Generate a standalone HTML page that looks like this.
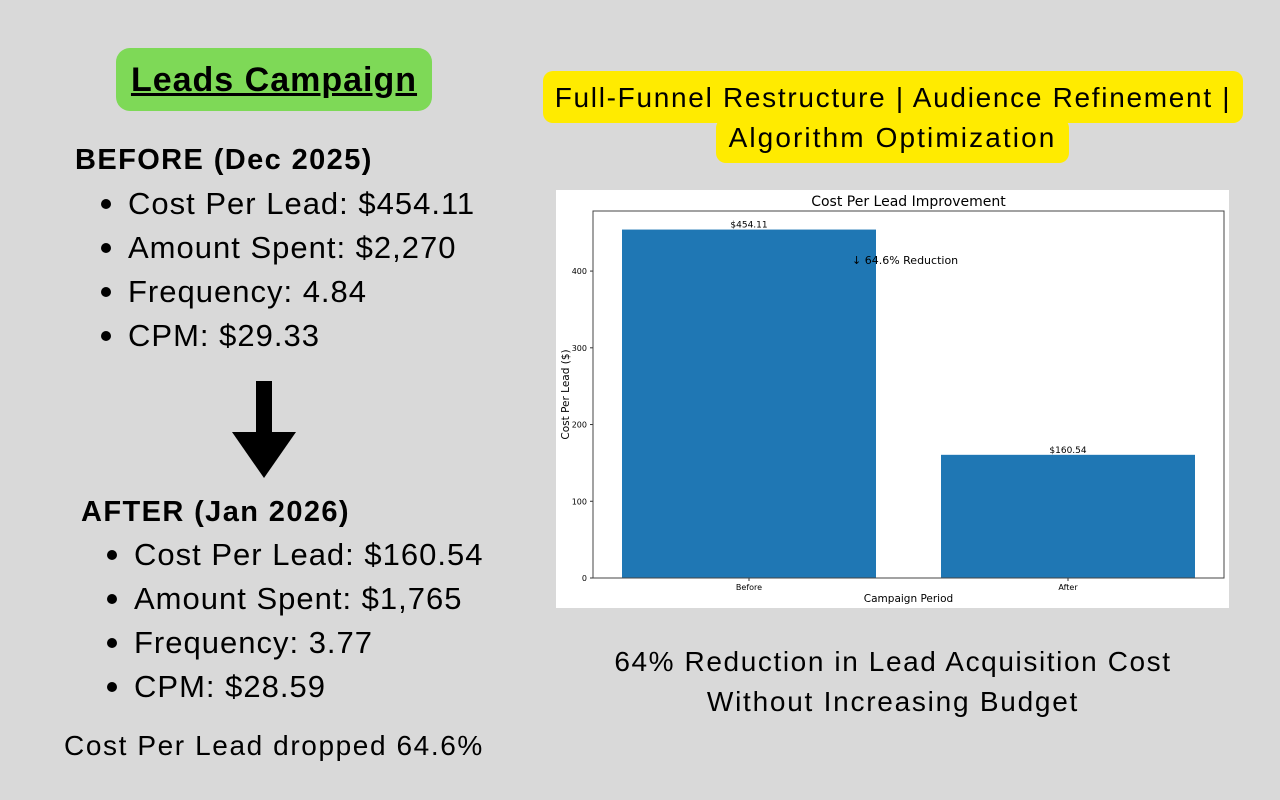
<!DOCTYPE html>
<html><head><meta charset="utf-8"><style>
body{margin:0;width:1280px;height:800px;background:#d9d9d9;position:relative;overflow:hidden;font-family:"Liberation Sans","DejaVu Sans",sans-serif;color:#000}
.t{position:absolute;white-space:nowrap;line-height:1}
.li{font-size:31px;letter-spacing:1px}
.li:before{content:"";position:absolute;left:-27px;top:11px;width:10px;height:10px;border-radius:50%;background:#000}
</style></head><body>
<div style="position:absolute;left:116px;top:48px;width:316px;height:63px;background:#7ed957;border-radius:14px"></div>
<div class="t" style="left:116px;width:316px;text-align:center;top:63px;font-size:34px;font-weight:bold;text-decoration:underline;letter-spacing:1px">Leads Campaign</div>

<div class="t" style="left:75px;top:146px;font-size:29px;font-weight:bold;letter-spacing:1.4px">BEFORE (Dec 2025)</div>
<div class="t li" style="left:128px;top:188px">Cost Per Lead: $454.11</div>
<div class="t li" style="left:128px;top:232px">Amount Spent: $2,270</div>
<div class="t li" style="left:128px;top:276px">Frequency: 4.84</div>
<div class="t li" style="left:128px;top:320px">CPM: $29.33</div>

<svg style="position:absolute;left:230px;top:380px" width="70" height="100"><rect x="26" y="1" width="16" height="56" fill="#000"/><polygon points="2,52 66,52 34,98" fill="#000"/></svg>

<div class="t" style="left:81px;top:498px;font-size:29px;font-weight:bold;letter-spacing:1.4px">AFTER (Jan 2026)</div>
<div class="t li" style="left:134px;top:539px">Cost Per Lead: $160.54</div>
<div class="t li" style="left:134px;top:583px">Amount Spent: $1,765</div>
<div class="t li" style="left:134px;top:627px">Frequency: 3.77</div>
<div class="t li" style="left:134px;top:671px">CPM: $28.59</div>
<div class="t" style="left:64px;top:732px;font-size:28px;letter-spacing:1.6px">Cost Per Lead dropped 64.6%</div>

<div style="position:absolute;left:543px;top:71px;width:700px;height:52px;background:#ffeb00;border-radius:10px"></div>
<div style="position:absolute;left:716px;top:118px;width:353px;height:45px;background:#ffeb00;border-radius:10px"></div>
<div class="t" style="left:543px;width:700px;text-align:center;top:84px;font-size:28px;letter-spacing:1.7px">Full-Funnel Restructure | Audience Refinement |</div>
<div class="t" style="left:716px;width:353px;text-align:center;top:124px;font-size:28px;letter-spacing:2.1px">Algorithm Optimization</div>

<div class="t" style="left:543px;width:700px;text-align:center;top:648px;font-size:28px;letter-spacing:1.6px">64% Reduction in Lead Acquisition Cost</div>
<div class="t" style="left:543px;width:700px;text-align:center;top:688px;font-size:28px;letter-spacing:1.75px">Without Increasing Budget</div>

<svg id="chart" style="position:absolute;left:556px;top:190px" width="673" height="418"></svg>
<script>
const categories=["Before","After"];
const values=[454.11,160.54];
const labels=["$454.11","$160.54"];
const yTicks=[0,100,200,300,400];
const NS="http://www.w3.org/2000/svg";
const svg=document.getElementById("chart");
const L=37,R=668,T=21,B=388,yMax=478.3;
const X0=193,XSTEP=319,bw=254;
function y(v){return B-(v/yMax)*(B-T);}
function xc(i){return X0+XSTEP*i;}
function mk(tag,attrs,txt){const e=document.createElementNS(NS,tag);for(const k in attrs)e.setAttribute(k,attrs[k]);if(txt!==undefined)e.textContent=txt;svg.appendChild(e);return e;}
const bg=mk("rect",{x:0,y:0,width:673,height:418,fill:"#fff"});


const ttl=mk("text",{x:(L+R)/2,y:16,"font-size":14,"text-anchor":"middle","font-family":"DejaVu Sans, sans-serif"},"Cost Per Lead Improvement");


categories.forEach((c,i)=>{
  const cx=xc(i);
  const b=mk("rect",{x:cx-bw/2,y:y(values[i]),width:bw,height:B-y(values[i]),fill:"#1f77b4"});
  
  
  const lt=mk("text",{x:cx,y:y(values[i])-2,"font-size":9,"text-anchor":"middle","font-family":"DejaVu Sans, sans-serif"},labels[i]);
  
  
  const tk=mk("line",{x1:cx,x2:cx,y1:B,y2:B+3,stroke:"#333"});
  
  
  const tl=mk("text",{x:cx,y:B+12,"font-size":8,"text-anchor":"middle","font-family":"DejaVu Sans, sans-serif"},c);
  
  
});
yTicks.forEach(v=>{
  const t=mk("line",{x1:L-3,x2:L,y1:y(v),y2:y(v),stroke:"#333"});
  
  
  const tl=mk("text",{x:L-6,y:y(v)+3,"font-size":8,"text-anchor":"end","font-family":"DejaVu Sans, sans-serif"},v);
  
  
});
const ax=mk("rect",{x:L,y:T,width:R-L,height:B-T,fill:"none",stroke:"#444","stroke-width":1});


const an=mk("text",{x:296,y:74,"font-size":11,"font-family":"DejaVu Sans, sans-serif"},"↓ 64.6% Reduction");


const xl=mk("text",{x:(L+R)/2,y:412,"font-size":10.5,"text-anchor":"middle","font-family":"DejaVu Sans, sans-serif"},"Campaign Period");


const yl=mk("text",{x:0,y:0,"font-size":10.5,"text-anchor":"middle","font-family":"DejaVu Sans, sans-serif",transform:"translate(13,"+((T+B)/2)+") rotate(-90)"},"Cost Per Lead ($)");


</script>
</body></html>
